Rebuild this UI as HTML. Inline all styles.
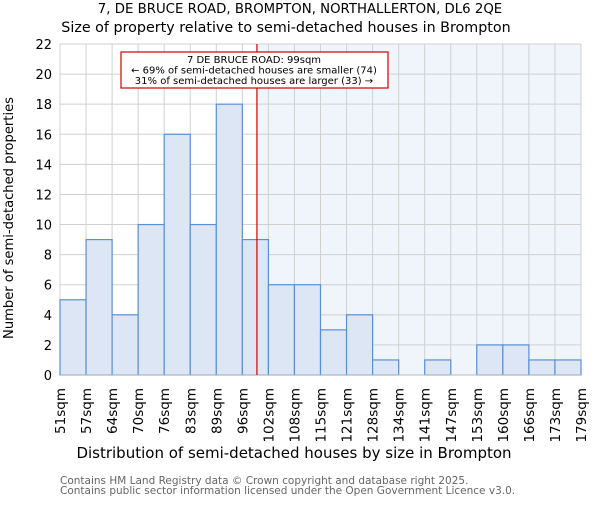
<!DOCTYPE html>
<html><head><meta charset="utf-8"><style>
body{margin:0;background:#fff}
svg{font-family:"DejaVu Sans","Liberation Sans",sans-serif}
</style></head><body>
<svg id="c" width="600" height="500">
<text x="300" y="13" text-anchor="middle" font-size="13.3">7, DE BRUCE ROAD, BROMPTON, NORTHALLERTON, DL6 2QE</text>
<text x="286" y="32" text-anchor="middle" font-size="14.3">Size of property relative to semi-detached houses in Brompton</text>
<g id="plot"></g>
<text x="294" y="458" text-anchor="middle" font-size="15">Distribution of semi-detached houses by size in Brompton</text>
<text transform="translate(13,218) rotate(-90)" text-anchor="middle" font-size="13.1">Number of semi-detached properties</text>
<text x="60" y="484" font-size="10.5" fill="#666">Contains HM Land Registry data © Crown copyright and database right 2025.</text>
<text x="60" y="494" font-size="10.5" fill="#666">Contains public sector information licensed under the Open Government Licence v3.0.</text>
</svg>
<script>
const categories=["51sqm","57sqm","64sqm","70sqm","76sqm","83sqm","89sqm","96sqm","102sqm","108sqm","115sqm","121sqm","128sqm","134sqm","141sqm","147sqm","153sqm","160sqm","166sqm","173sqm","179sqm"];
const counts=[5,9,4,10,16,10,18,9,6,6,3,4,1,0,1,0,2,2,1,1];
const yTicks=[0,2,4,6,8,10,12,14,16,18,20,22];
const markerBin=7.56;
const NS="http://www.w3.org/2000/svg";
const g=document.getElementById('plot');
const L=60,R=581,T=44,B=375,yMax=22;
const bw=(R-L)/counts.length;
const x=i=>L+i*bw;
const y=v=>B-(v/yMax)*(B-T);
function mk(t,a){const e=document.createElementNS(NS,t);for(const k in a)e.setAttribute(k,a[k]);g.appendChild(e);return e;}
const mx=x(markerBin);
let e=mk('rect',{x:mx,y:T,width:R-mx,height:B-T,fill:'#f0f4fb'});


for(let i=0;i<=counts.length;i++){e=mk('line',{x1:x(i),x2:x(i),y1:T,y2:B,stroke:'#d0d0d0','stroke-width':1});

}
yTicks.forEach(t=>{e=mk('line',{x1:L,x2:R,y1:y(t),y2:y(t),stroke:'#d0d0d0','stroke-width':1});


e=mk('text',{x:L-8,y:y(t)+5,'text-anchor':'end','font-size':13});e.textContent=t;

});
counts.forEach((v,i)=>{if(v<=0)return;e=mk('rect',{x:x(i),y:y(v),width:bw,height:B-y(v),fill:'#dde6f4',stroke:'#5b8fd6','stroke-width':1.2});

});
categories.forEach((c,i)=>{e=mk('text',{transform:`translate(${x(i)+5},388) rotate(-90)`,'text-anchor':'end','font-size':13.5});e.textContent=c;

});
e=mk('line',{x1:L,x2:R,y1:B,y2:B,stroke:'#bbb'});


e=mk('line',{x1:mx,x2:mx,y1:T,y2:B,stroke:'#d00000','stroke-width':1.2});


e=mk('rect',{x:121,y:52,width:267,height:36,fill:'#fff',stroke:'#d00000','stroke-width':1.2});


["7 DE BRUCE ROAD: 99sqm","← 69% of semi-detached houses are smaller (74)","31% of semi-detached houses are larger (33) →"].forEach((s,i)=>{e=mk('text',{x:254,y:63+i*10.5,'text-anchor':'middle','font-size':10});e.textContent=s;

});
</script>
</body></html>
